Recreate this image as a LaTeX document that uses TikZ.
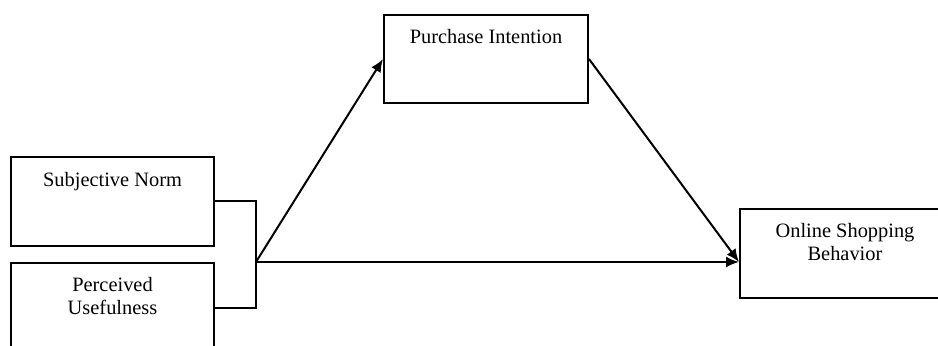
\documentclass[tikz,border=0pt]{standalone}
\usepackage{fontspec}
\setmainfont{Liberation Serif}
\usetikzlibrary{positioning,arrows.meta}

\begin{document}
\begin{tikzpicture}[x=0.5pt,y=-0.5pt,
    box/.style={draw, line width=1pt, anchor=north west, inner sep=0pt},
    txt/.style={inner sep=0pt, align=center, font=\fontsize{10.2pt}{11.5pt}\selectfont},
    arr/.style={line width=1pt, -{Latex[length=6.5pt,width=5.5pt]}}]
            \clip (0,0) rectangle (938,346);
            % Define boxes
            \node[box, minimum width=101.5pt, minimum height=44.5pt] (sn) at (10,156) {};
            \node[box, minimum width=101.5pt, minimum height=45pt] (pu) at (10,262) {};
            \node[box, minimum width=102pt, minimum height=44pt] (pi) at (383,14) {};
            \node[box, minimum width=105pt, minimum height=44.5pt] (osb) at (739,208) {};
            % Add texts near the top of each box
            \node[txt, below=8pt of sn.north] (snt) {Subjective Norm};
            \node[txt, below=7.5pt of pu.north] (put) {Perceived\\Usefulness};
            \node[txt, below=7.5pt of pi.north] (pit) {Purchase Intention};
            \node[txt, below=7.5pt of osb.north] (osbt) {Online Shopping\\Behavior};
            % Join the two left boxes
            \coordinate (j) at (256,262);
            \draw[line width=1pt] (sn.east) -| (j) |- (pu.east);
            % Draw arrows
            \draw[arr] (j) -- (pi.west);
            \draw[arr] (pi.east) -- (j -| osb.west);
            \draw[arr] (j) -- (j -| osb.west);
          \end{tikzpicture}
\end{document}
